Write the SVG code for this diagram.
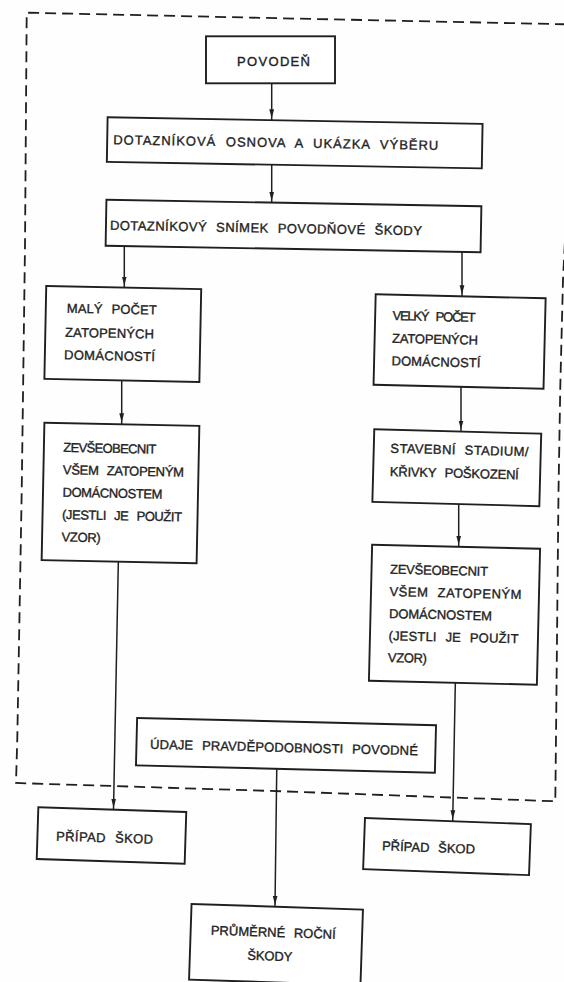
<svg xmlns="http://www.w3.org/2000/svg" width="564" height="982" viewBox="0 0 564 982">
<defs>
<style>
.box{fill:#fff;stroke:#1f1f1f;stroke-width:1.9}
.lbl{font-family:"Liberation Sans",Arial,sans-serif;font-size:13px;fill:#222;stroke:#222;stroke-width:0.35;word-spacing:5px}
.conn line{stroke:#1f1f1f;stroke-width:1.5;marker-end:url(#ah)}
.frame{fill:none;stroke:#1f1f1f;stroke-width:1.8;stroke-dasharray:11 6}
</style>
<marker id="ah" markerUnits="userSpaceOnUse" markerWidth="12" markerHeight="6" refX="11" refY="3" orient="auto">
<path d="M0,0.6 L9,3 L0,5.4 z" fill="#1f1f1f"/>
</marker>
</defs>
<rect width="564" height="982" fill="#fefefe"/>
<path class="frame" d="M566,24.3 L282,18.3 L26.7,12.7 L25,246 L21.7,492 L17.3,738 L16,783 L282,791.3 L555.3,801.3 L556,738 L558.5,492 L560.3,386 L563,280 L567,200"/>
<g id="connectors" class="conn">
<line x1="271.7" y1="80" x2="271.7" y2="120.2"/>
<line x1="271.7" y1="160" x2="271.7" y2="202.7"/>
<line x1="124.3" y1="244" x2="124.3" y2="287.5"/>
<line x1="462" y1="246" x2="462" y2="296.3"/>
<line x1="121.7" y1="377" x2="121.7" y2="424.3"/>
<line x1="461" y1="384" x2="461" y2="431.6"/>
<line x1="458.7" y1="500" x2="458.7" y2="546.8"/>
<line x1="118.4" y1="558" x2="113.5" y2="809.7"/>
<line x1="455.4" y1="679" x2="452.7" y2="821.3"/>
<line x1="276.8" y1="765" x2="275" y2="906.7"/>
</g>
<g id="node-povoden">
<rect class="box" x="206" y="36.3" width="129" height="47"/>
<text class="lbl" x="237" y="66" textLength="73" lengthAdjust="spacing">POVODEŇ</text>
</g>
<g id="node-dotaznikova-osnova" transform="rotate(1 294.7 142.8)">
<rect class="box" x="107.2" y="120.6" width="375" height="44.5"/>
<text class="lbl" x="113.3" y="147.4" textLength="325" lengthAdjust="spacing">DOTAZNÍKOVÁ OSNOVA A UKÁZKA VÝBĚRU</text>
</g>
<g id="node-dotaznikovy-snimek" transform="rotate(1 293.5 226)">
<rect class="box" x="106" y="203" width="375" height="46"/>
<text class="lbl" x="110" y="233" textLength="312" lengthAdjust="spacing">DOTAZNÍKOVÝ SNÍMEK POVODŇOVÉ ŠKODY</text>
</g>
<g id="node-maly-pocet" transform="rotate(1.15 122.8 334)">
<rect class="box" x="45.3" y="287.5" width="155" height="93"/>
<text class="lbl" x="66.3" y="313.8" textLength="90" lengthAdjust="spacing">MALÝ POČET</text>
<text class="lbl" x="65" y="337.9" textLength="89" lengthAdjust="spacing">ZATOPENÝCH</text>
<text class="lbl" x="64.5" y="360.5" textLength="91" lengthAdjust="spacing">DOMÁCNOSTÍ</text>
</g>
<g id="node-zevseobecnit-left" transform="rotate(1.15 120.5 493)">
<rect class="box" x="43" y="424.25" width="155" height="137.5"/>
<text class="lbl" x="62.5" y="453" textLength="93" lengthAdjust="spacing">ZEVŠEOBECNIT</text>
<text class="lbl" x="62.5" y="475.4" textLength="121" lengthAdjust="spacing">VŠEM ZATOPENÝM</text>
<text class="lbl" x="62.5" y="497.8" textLength="100" lengthAdjust="spacing">DOMÁCNOSTEM</text>
<text class="lbl" x="62.5" y="520.2" textLength="120" lengthAdjust="spacing">(JESTLI JE POUŽIT</text>
<text class="lbl" x="62.5" y="542.6" textLength="39" lengthAdjust="spacing">VZOR)</text>
</g>
<g id="node-velky-pocet" transform="rotate(1.35 459.6 341.5)">
<rect class="box" x="374.6" y="296.25" width="170" height="90.5"/>
<text class="lbl" x="392" y="321.6" textLength="83" lengthAdjust="spacing">VELKÝ POČET</text>
<text class="lbl" x="392" y="344.3" textLength="86" lengthAdjust="spacing">ZATOPENÝCH</text>
<text class="lbl" x="392" y="366.9" textLength="89" lengthAdjust="spacing">DOMÁCNOSTÍ</text>
</g>
<g id="node-stavebni-stadium" transform="rotate(1.5 456.8 467.75)">
<rect class="box" x="373.3" y="431.5" width="167" height="72.5"/>
<text class="lbl" x="390" y="454.4" textLength="138" lengthAdjust="spacing">STAVEBNÍ STADIUM/</text>
<text class="lbl" x="390" y="477.7" textLength="129" lengthAdjust="spacing">KŘIVKY POŠKOZENÍ</text>
</g>
<g id="node-zevseobecnit-right" transform="rotate(1.35 454.5 614.75)">
<rect class="box" x="370.5" y="546.75" width="168" height="136"/>
<text class="lbl" x="389" y="575.2" textLength="98" lengthAdjust="spacing">ZEVŠEOBECNIT</text>
<text class="lbl" x="389" y="597.5" textLength="132" lengthAdjust="spacing">VŠEM ZATOPENÝM</text>
<text class="lbl" x="389" y="619.5" textLength="103" lengthAdjust="spacing">DOMÁCNOSTEM</text>
<text class="lbl" x="389" y="641.8" textLength="130" lengthAdjust="spacing">(JESTLI JE POUŽIT</text>
<text class="lbl" x="389" y="663.5" textLength="39" lengthAdjust="spacing">VZOR)</text>
</g>
<g id="node-udaje" transform="rotate(1.4 286 745.3)">
<rect class="box" x="136.5" y="721.55" width="299" height="47.5"/>
<text class="lbl" x="150" y="752" textLength="268" lengthAdjust="spacing">ÚDAJE PRAVDĚPODOBNOSTI POVODNÉ</text>
</g>
<g id="node-pripad-left" transform="rotate(1.8 111.5 835.5)">
<rect class="box" x="37.5" y="809.65" width="148" height="51.7"/>
<text class="lbl" x="56.2" y="842.4" textLength="97" lengthAdjust="spacing">PŘÍPAD ŠKOD</text>
</g>
<g id="node-pripad-right" transform="rotate(2.1 447 846.6)">
<rect class="box" x="364" y="821.1" width="166" height="51"/>
<text class="lbl" x="382.1" y="852.7" textLength="93" lengthAdjust="spacing">PŘÍPAD ŠKOD</text>
</g>
<g id="node-prumerne" transform="rotate(1.9 276 944.6)">
<rect class="box" x="190.25" y="906.75" width="171.5" height="75.7"/>
<text class="lbl" x="210.4" y="936.9" textLength="125" lengthAdjust="spacing">PRŮMĚRNÉ ROČNÍ</text>
<text class="lbl" x="247.8" y="960.7" textLength="45" lengthAdjust="spacing">ŠKODY</text>
</g>
</svg>
